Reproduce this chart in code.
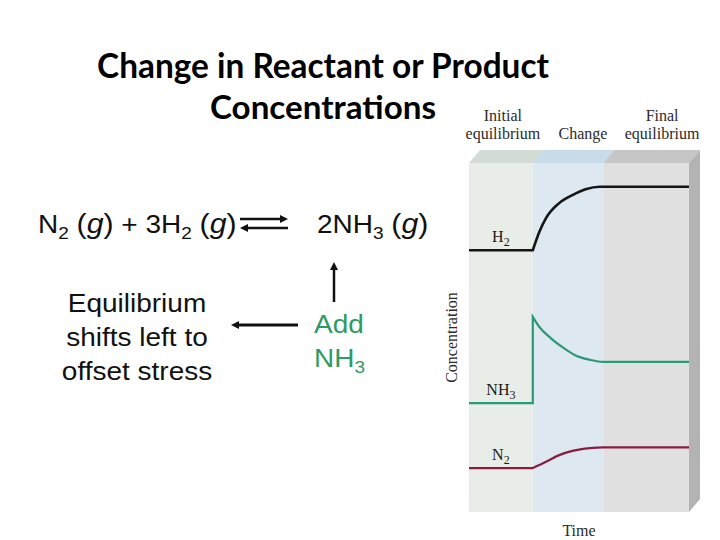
<!DOCTYPE html>
<html>
<head>
<meta charset="utf-8">
<script src="https://cdn.jsdelivr.net/npm/d3@7"></script>
<style>
	html, body {
		margin: 0;
		padding: 0;
		background: #ffffff;
	}

	svg {
		display: block;
	}
</style>
</head>
<body>
<div id="container"></div>
<script>
// Phases of the experiment along the time axis (arbitrary time units 0-100)
const phaseNames = ["Initial equilibrium", "Change", "Final equilibrium"];
const phaseBounds = [0, 29, 61, 100];
const changeStart = 29;

// Concentrations (arbitrary units 0-100)
const h2Time = [0, 29, 32, 35, 41, 47, 53, 59.5, 100];
const h2Conc = [75, 75, 80.3, 84.2, 88.5, 90.8, 92.5, 93.2, 93.2];

const nh3Time = [0, 29, 29, 32, 37, 43, 48, 55, 61, 100];
const nh3Conc = [31.2, 31.2, 55.9, 53, 49.9, 47, 45, 43.6, 43, 43];

const n2Time = [0, 29, 35, 41, 47, 55, 61, 100];
const n2Conc = [12.6, 12.6, 14.4, 16.3, 17.5, 18.3, 18.5, 18.5];

const theme = {
	width: 720,
	height: 540,
	panel: {left: 469, right: 689, top: 163, bottom: 512},
	depth: {dx: 11, dy: -13},
	frontFill: ["#e9ede8", "#dde8f0", "#e0e0e0"],
	topFill: ["#d3dbd5", "#c7dce8", "#c6c6c6"],
	sideFill: "#b3b3b3",
	lineColor: {H2: "#151515", NH3: "#2a9a76", N2: "#8a1c44"},
	lineWidth: {H2: 2.6, NH3: 2.2, N2: 2.2},
	serif: "'Liberation Serif', 'DejaVu Serif', serif",
	sans: "'Liberation Sans', Arial, sans-serif",
	titleFont: "Lato, 'Open Sans', sans-serif",
	green: "#2f9a64",
	stretch: 1.12,
};

const series = [
	{name: "H2", time: h2Time, conc: h2Conc},
	{name: "NH3", time: nh3Time, conc: nh3Conc},
	{name: "N2", time: n2Time, conc: n2Conc},
];

const svg = d3
	.select("#container")
	.append("svg")
	.attr("width", theme.width)
	.attr("height", theme.height)
	.attr("viewBox", `0 0 ${theme.width} ${theme.height}`);

const x = d3
	.scaleLinear()
	.domain([0, 100])
	.range([theme.panel.left, theme.panel.right]);

const y = d3
	.scaleLinear()
	.domain([0, 100])
	.range([theme.panel.bottom, theme.panel.top]);

/** Appends tspans; subscripts are lowered and the following part raised back. */
function richText(sel, parts, subSize, subShift) {
	parts.forEach((part) => {
		const t = sel.append("tspan").text(part.text);
		if (part.sub) {
			t.attr("font-size", subSize).attr("dy", subShift);
		} else if (part.afterSub) {
			t.attr("dy", -subShift);
		}
		if (part.italic) t.attr("font-style", "italic");
		if (part.size) t.attr("font-size", part.size);
	});
}

// ---------- Title ----------
const title = svg
	.append("g")
	.attr("font-family", theme.titleFont)
	.attr("font-weight", "bold")
	.attr("fill", "#000000")
	.attr("text-anchor", "middle");

[
	{text: "Change in Reactant or Product", y: 78, width: 452},
	{text: "Concentrations", y: 119, width: 226},
].forEach((line) => {
	const node = title
		.append("text")
		.attr("x", 323)
		.attr("y", line.y)
		.attr("font-size", 30)
		.text(line.text);
	const len = node.node().getComputedTextLength();
	node.attr("font-size", (30 * line.width) / len);
});

// ---------- Equation and annotations ----------
// The slide's Arial text is a little wider than normal, so the group is stretched.
const sx = theme.stretch;
const eq = svg
	.append("g")
	.attr("transform", `scale(${sx},1)`)
	.attr("font-family", theme.sans)
	.attr("font-size", 25)
	.attr("fill", "#111111");

richText(
	eq.append("text").attr("x", 38 / sx).attr("y", 233),
	[
		{text: "N"},
		{text: "2", sub: true},
		{text: " ", afterSub: true},
		{text: "(", size: 27},
		{text: "g", italic: true, size: 27},
		{text: ")", size: 27},
		{text: " + 3H"},
		{text: "2", sub: true},
		{text: " ", afterSub: true},
		{text: "(", size: 27},
		{text: "g", italic: true, size: 27},
		{text: ")", size: 27},
	],
	17,
	6,
);

richText(
	eq.append("text").attr("x", 317 / sx).attr("y", 233),
	[
		{text: "2NH"},
		{text: "3", sub: true},
		{text: " ", afterSub: true},
		{text: "(", size: 27},
		{text: "g", italic: true, size: 27},
		{text: ")", size: 27},
	],
	17,
	6,
);

const explain = eq.append("g").attr("text-anchor", "middle");
["Equilibrium", "shifts left to", "offset stress"].forEach((line, i) => {
	explain
		.append("text")
		.attr("x", 137 / sx)
		.attr("y", 312 + i * 34)
		.text(line);
});

const add = eq.append("g").attr("fill", theme.green);
add.append("text").attr("x", 314 / sx).attr("y", 333).text("Add");
richText(
	add.append("text").attr("x", 314 / sx).attr("y", 367),
	[{text: "NH"}, {text: "3", sub: true}],
	17,
	6,
);

// Arrows
const arrows = svg.append("g").attr("fill", "#111111").attr("stroke", "#111111");

function arrow(x1, y1, x2, y2, width) {
	const angle = Math.atan2(y2 - y1, x2 - x1);
	const head = 8;
	const half = 4;
	const bx = x2 - head * Math.cos(angle);
	const by = y2 - head * Math.sin(angle);
	arrows
		.append("line")
		.attr("x1", x1)
		.attr("y1", y1)
		.attr("x2", bx)
		.attr("y2", by)
		.attr("stroke-width", width);
	arrows
		.append("path")
		.attr("stroke", "none")
		.attr(
			"d",
			`M${x2},${y2}L${bx - half * Math.sin(angle)},${by + half * Math.cos(angle)}L${
				bx + half * Math.sin(angle)
			},${by - half * Math.cos(angle)}Z`,
		);
}

arrow(240, 219, 288, 219, 2.5);
arrow(288, 228, 240, 228, 2.5);
arrow(334, 302, 334, 262, 2.5);
arrow(298, 325, 231, 325, 3);

// ---------- Concentration vs time panel ----------
const panel = svg.append("g");
const {dx, dy} = theme.depth;

// Top face of the box, one slab per phase
panel
	.append("g")
	.selectAll("path")
	.data(d3.range(phaseNames.length))
	.join("path")
	.attr("fill", (i) => theme.topFill[i])
	.attr("d", (i) => {
		const a = x(phaseBounds[i]);
		const b = x(phaseBounds[i + 1]);
		return `M${a},${theme.panel.top}L${a + dx},${theme.panel.top + dy}L${b + dx},${
			theme.panel.top + dy
		}L${b},${theme.panel.top}Z`;
	});

// Side face
panel
	.append("path")
	.attr("fill", theme.sideFill)
	.attr(
		"d",
		`M${theme.panel.right},${theme.panel.top}L${theme.panel.right + dx},${
			theme.panel.top + dy
		}L${theme.panel.right + dx},${theme.panel.bottom + dy}L${theme.panel.right},${
			theme.panel.bottom
		}Z`,
	);

// Front face
panel
	.append("g")
	.selectAll("rect")
	.data(d3.range(phaseNames.length))
	.join("rect")
	.attr("x", (i) => x(phaseBounds[i]))
	.attr("y", theme.panel.top)
	.attr("width", (i) => x(phaseBounds[i + 1]) - x(phaseBounds[i]))
	.attr("height", theme.panel.bottom - theme.panel.top)
	.attr("fill", (i) => theme.frontFill[i]);

// Phase headers
const headers = panel
	.append("g")
	.attr("font-family", theme.serif)
	.attr("font-size", 16)
	.attr("fill", "#2a2a2a")
	.attr("text-anchor", "middle");

const headerNudge = [2, 15, 16];
phaseNames.forEach((name, i) => {
	const cx = (x(phaseBounds[i]) + x(phaseBounds[i + 1])) / 2 + headerNudge[i];
	const words = name.split(" ");
	if (words.length === 1) {
		headers.append("text").attr("x", cx).attr("y", 139).text(words[0]);
	} else {
		headers.append("text").attr("x", cx).attr("y", 121).text(words[0]);
		headers.append("text").attr("x", cx).attr("y", 139).text(words[1]);
	}
});

// Curves: flat start (with any jump) drawn straight, the response smoothed
const flat = d3
	.line()
	.x((d) => x(d[0]))
	.y((d) => y(d[1]));
const smooth = d3
	.line()
	.x((d) => x(d[0]))
	.y((d) => y(d[1]))
	.curve(d3.curveMonotoneX);

const lines = panel
	.append("g")
	.attr("fill", "none")
	.attr("stroke-linejoin", "miter");

series.forEach((s) => {
	const pts = s.time.map((t, i) => [t, s.conc[i]]);
	let last = -1;
	pts.forEach((p, i) => {
		if (p[0] === changeStart) last = i;
	});

	lines
		.append("path")
		.attr("d", flat(pts.slice(0, last + 1)) + smooth(pts.slice(last)).replace(/^M[^LC]*/, ""))
		.attr("stroke", theme.lineColor[s.name])
		.attr("stroke-width", theme.lineWidth[s.name]);
});

// Series labels above the initial levels
const labels = panel
	.append("g")
	.attr("font-family", theme.serif)
	.attr("font-size", 16)
	.attr("fill", "#1a1a1a")
	.attr("text-anchor", "middle");

series.forEach((s) => {
	const base = s.name.replace(/\d+$/, "");
	const digit = s.name.slice(base.length);
	richText(
		labels
			.append("text")
			.attr("x", x(14.5))
			.attr("y", y(s.conc[0]) - 8),
		[{text: base}, {text: digit, sub: true}],
		12,
		4,
	);
});

// Axis titles
panel
	.append("text")
	.attr(
		"transform",
		`translate(457, ${(theme.panel.top + theme.panel.bottom) / 2}) rotate(-90)`,
	)
	.attr("font-family", theme.serif)
	.attr("font-size", 16)
	.attr("fill", "#2a2a2a")
	.attr("text-anchor", "middle")
	.text("Concentration");

panel
	.append("text")
	.attr("x", 579)
	.attr("y", 536)
	.attr("font-family", theme.serif)
	.attr("font-size", 16)
	.attr("fill", "#2a2a2a")
	.attr("text-anchor", "middle")
	.text("Time");
</script>
</body>
</html>
